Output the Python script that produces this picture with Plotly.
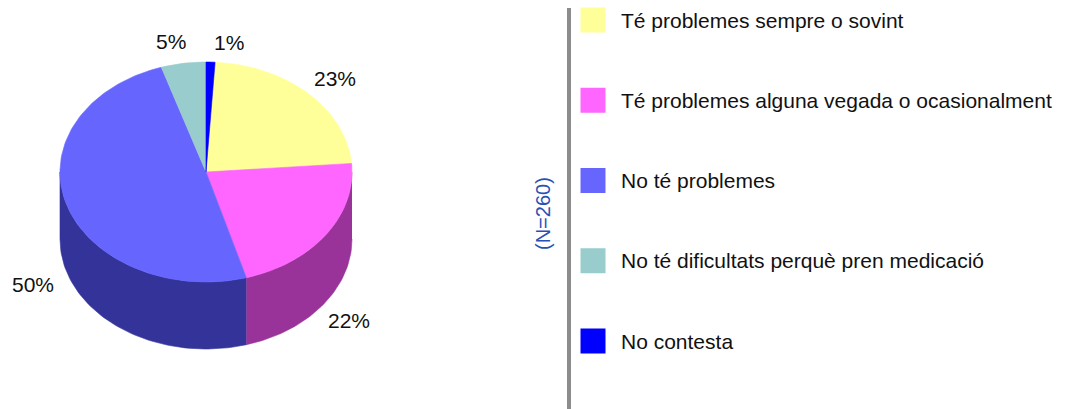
import math
import plotly.graph_objects as go

# ---- data ----
categories = [
    "Té problemes sempre o sovint",
    "Té problemes alguna vegada o ocasionalment",
    "No té problemes",
    "No té dificultats perquè pren medicació",
    "No contesta",
]
values = [23, 22, 50, 5, 1]
labels = ["23%", "22%", "50%", "5%", "1%"]
sample_note = "(N=260)"

# ---- styles ----
top_colors = ["#FFFF99", "#FF66FF", "#6666FF", "#99CCCC", "#0000FF"]
side_colors = ["#999955", "#993399", "#333399", "#5c7a7a", "#000099"]
FONT = "Arial, Liberation Sans, sans-serif"

W, H = 1076, 409
cx, cy = 206, 172        # centre of top face (px)
rx, ry = 146, 110        # ellipse radii
depth = 67               # height of the cylinder side
label_out = 30           # label distance outside rim
label_nudge = [(6, 6), (-2, 2), (-5, 5), (-8, 8), (18, 10)]

def pt(theta_deg, k=1.0, dy=0.0):
    t = math.radians(theta_deg)
    return cx + rx * k * math.sin(t), cy - ry * k * math.cos(t) + dy

total = sum(values)
# the last slice ("No contesta") sits just right of 12 o'clock
start = 360.0 * values[-1] / total
bounds = [start]
for v in values:
    bounds.append(bounds[-1] + 360.0 * v / total)

fig = go.Figure()

# side walls (front half only: 90..270 deg clockwise from top)
for i in range(len(values)):
    a, b = max(bounds[i], 90), min(bounds[i + 1], 270)
    if b <= a:
        continue
    n = max(4, int((b - a) / 1.5))
    angs = [a + (b - a) * j / n for j in range(n + 1)]
    xs = [pt(t)[0] for t in angs] + [pt(t, dy=depth)[0] for t in reversed(angs)]
    ys = [pt(t)[1] for t in angs] + [pt(t, dy=depth)[1] for t in reversed(angs)]
    fig.add_trace(go.Scatter(x=xs, y=ys, fill="toself", mode="lines",
                             fillcolor=side_colors[i],
                             line=dict(color=side_colors[i], width=0.6),
                             hoverinfo="skip", showlegend=False))

# top faces
for i in range(len(values)):
    a, b = bounds[i], bounds[i + 1]
    n = max(3, int((b - a) / 1.5))
    angs = [a + (b - a) * j / n for j in range(n + 1)]
    xs = [cx] + [pt(t)[0] for t in angs] + [cx]
    ys = [cy] + [pt(t)[1] for t in angs] + [cy]
    fig.add_trace(go.Scatter(x=xs, y=ys, fill="toself", mode="lines",
                             fillcolor=top_colors[i],
                             line=dict(color=top_colors[i], width=0.6),
                             name=categories[i],
                             hovertemplate=f"{categories[i]}: {labels[i]}<extra></extra>",
                             showlegend=False))

# percentage labels
for i in range(len(values)):
    mid = (bounds[i] + bounds[i + 1]) / 2
    t = math.radians(mid)
    x, y = pt(mid)
    x += label_out * math.sin(t) + label_nudge[i][0]
    y += -label_out * math.cos(t) + label_nudge[i][1]
    if 90 < (mid % 360) < 270:
        y += depth
    fig.add_annotation(x=x, y=y, text=labels[i], showarrow=False,
                       xanchor="center", yanchor="middle",
                       font=dict(family=FONT, size=21, color="#111111"))

# legend (manual, large spacing as in the reference)
leg_x, leg_top, leg_step = 593, 20, 80.25
leg_y = [leg_top + i * leg_step for i in range(len(categories))]
fig.add_trace(go.Scatter(x=[leg_x] * len(categories), y=leg_y, mode="markers",
                         marker=dict(symbol="square", size=25, color=top_colors,
                                     line=dict(width=0)),
                         hoverinfo="skip", showlegend=False))
for i, c in enumerate(categories):
    fig.add_annotation(x=619, y=leg_y[i], text=c, showarrow=False,
                       xanchor="left", yanchor="middle",
                       font=dict(family=FONT, size=21, color="#111111"))

# separator line and note
fig.add_shape(type="line", x0=569, x1=569, y0=8, y1=H,
              line=dict(color="#8c8c8c", width=4))
fig.add_annotation(x=543, y=214, text=sample_note, textangle=-90, showarrow=False,
                   xanchor="center", yanchor="middle",
                   font=dict(family=FONT, size=20, color="#2a4fb5"))

fig.update_xaxes(range=[0, W], visible=False, fixedrange=True)
fig.update_yaxes(range=[H, 0], visible=False, fixedrange=True)
fig.update_layout(width=W, height=H, margin=dict(l=0, r=0, t=0, b=0),
                  paper_bgcolor="white", plot_bgcolor="white", showlegend=False)

fig.write_html("out.html", config={"displayModeBar": False},
               post_script="document.body.style.margin='0';"
                           "document.body.style.overflow='hidden';")
